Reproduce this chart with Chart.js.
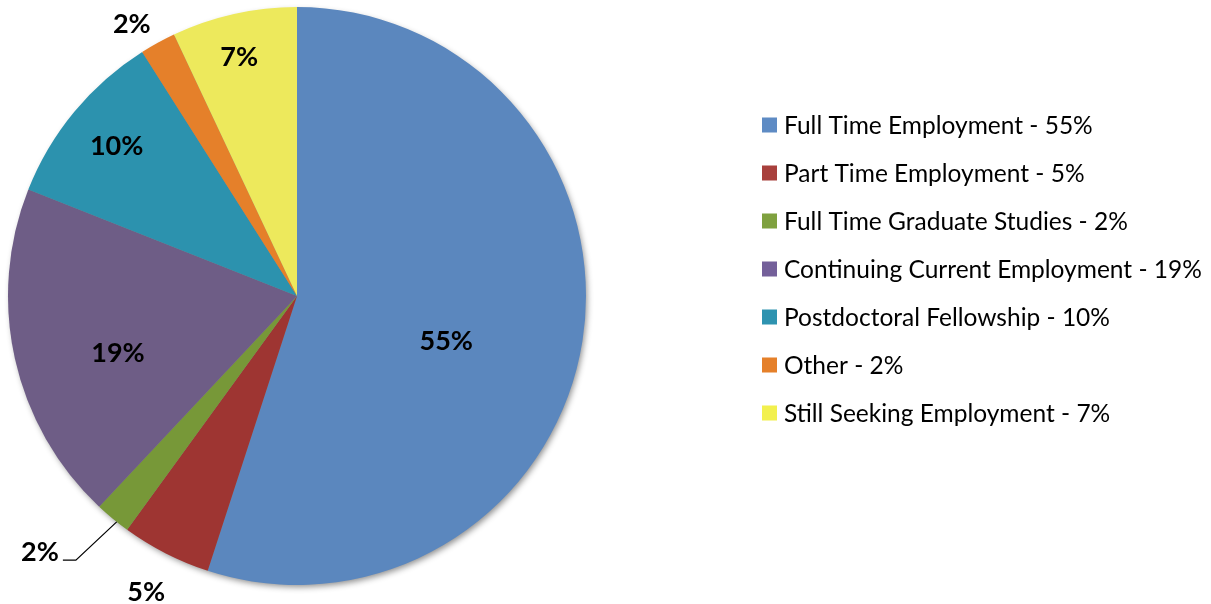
<!DOCTYPE html>
<html>
<head>
<meta charset="utf-8">
<script src="https://cdn.jsdelivr.net/npm/chart.js@4.4.1/dist/chart.umd.min.js"></script>
<style>
  html, body { margin: 0; padding: 0; background: #ffffff; }
  #wrap { width: 1211px; height: 604px; }
</style>
</head>
<body>
<div id="wrap"><canvas id="c" width="1211" height="604"></canvas></div>
<script>
// ---- Data ----
const categories = [
  "Full Time Employment",
  "Part Time Employment",
  "Full Time Graduate Studies",
  "Continuing Current Employment",
  "Postdoctoral Fellowship",
  "Other",
  "Still Seeking Employment"
];
const percentValues = [55, 5, 2, 19, 10, 2, 7];
const sliceColors = ["#5B87BE", "#9E3532", "#779838", "#6E5D86", "#2C92AE", "#E5802A", "#EDE95C"];
const legendColors = ["#5E8BC4", "#A8403C", "#7FA13F", "#74609A", "#2E93B0", "#E5802A", "#F2F04E"];

// label placement (fraction of radius, angular shift in degrees)
const labelRadius = [0.54, 1.15, 1.256, 0.65, 0.81, 1.10, 0.85];
const labelShift  = [8, 0, 5.5, -5, 0, -2.5, -1];
const leaderFor   = [false, false, true, false, false, false, false];

const pieShadow = {
  id: 'pieShadow',
  beforeDatasetsDraw(chart) {
    const arc = chart.getDatasetMeta(0).data[0];
    if (!arc) return;
    const { x, y, outerRadius } = arc.getProps(['x', 'y', 'outerRadius'], true);
    const ctx = chart.ctx;
    ctx.save();
    ctx.shadowColor = 'rgba(0,0,0,0.45)';
    ctx.shadowBlur = 6;
    ctx.shadowOffsetX = 2;
    ctx.shadowOffsetY = 3;
    ctx.fillStyle = '#888';
    ctx.beginPath();
    ctx.arc(x, y, outerRadius - 1, 0, Math.PI * 2);
    ctx.fill();
    ctx.restore();
  }
};

const pieLabels = {
  id: 'pieLabels',
  afterDatasetsDraw(chart) {
    const ctx = chart.ctx;
    const meta = chart.getDatasetMeta(0);
    ctx.save();
    ctx.font = 'bold 27px Lato, "Open Sans", sans-serif';
    ctx.fillStyle = '#000';
    ctx.textAlign = 'center';
    ctx.textBaseline = 'middle';
    meta.data.forEach((arc, i) => {
      const p = arc.getProps(['x', 'y', 'startAngle', 'endAngle', 'outerRadius'], true);
      const mid = (p.startAngle + p.endAngle) / 2;
      const a = mid + labelShift[i] * Math.PI / 180;
      const r = p.outerRadius * labelRadius[i];
      const lx = p.x + Math.cos(a) * r;
      const ly = p.y + Math.sin(a) * r;
      ctx.fillText(percentValues[i] + '%', lx, ly);
      if (leaderFor[i]) {
        const ex = p.x + Math.cos(mid - 1 * Math.PI / 180) * p.outerRadius;
        const ey = p.y + Math.sin(mid - 1 * Math.PI / 180) * p.outerRadius;
        ctx.beginPath();
        ctx.strokeStyle = '#000';
        ctx.lineWidth = 1.2;
        ctx.moveTo(ex, ey);
        ctx.lineTo(lx + 36, ly + 8);
        ctx.lineTo(lx + 23, ly + 8);
        ctx.stroke();
      }
    });
    ctx.restore();
  }
};

const customLegend = {
  id: 'customLegend',
  afterDraw(chart) {
    const ctx = chart.ctx;
    ctx.save();
    ctx.font = '24.5px Lato, "Open Sans", sans-serif';
    ctx.textBaseline = 'middle';
    ctx.textAlign = 'left';
    categories.forEach((c, i) => {
      const y = 125 + i * 48;
      ctx.fillStyle = legendColors[i];
      ctx.fillRect(762, y - 7.5, 15, 15);
      ctx.fillStyle = '#000';
      ctx.fillText(c + ' - ' + percentValues[i] + '%', 784, y + 1);
    });
    ctx.restore();
  }
};

new Chart(document.getElementById('c'), {
  type: 'pie',
  data: {
    labels: categories,
    datasets: [{
      data: percentValues,
      backgroundColor: sliceColors,
      borderWidth: 0
    }]
  },
  options: {
    responsive: false,
    animation: false,
    layout: { padding: { left: 8, top: 7, right: 625, bottom: 19 } },
    plugins: {
      legend: { display: false },
      tooltip: { enabled: false }
    }
  },
  plugins: [pieShadow, pieLabels, customLegend]
});
</script>
</body>
</html>
